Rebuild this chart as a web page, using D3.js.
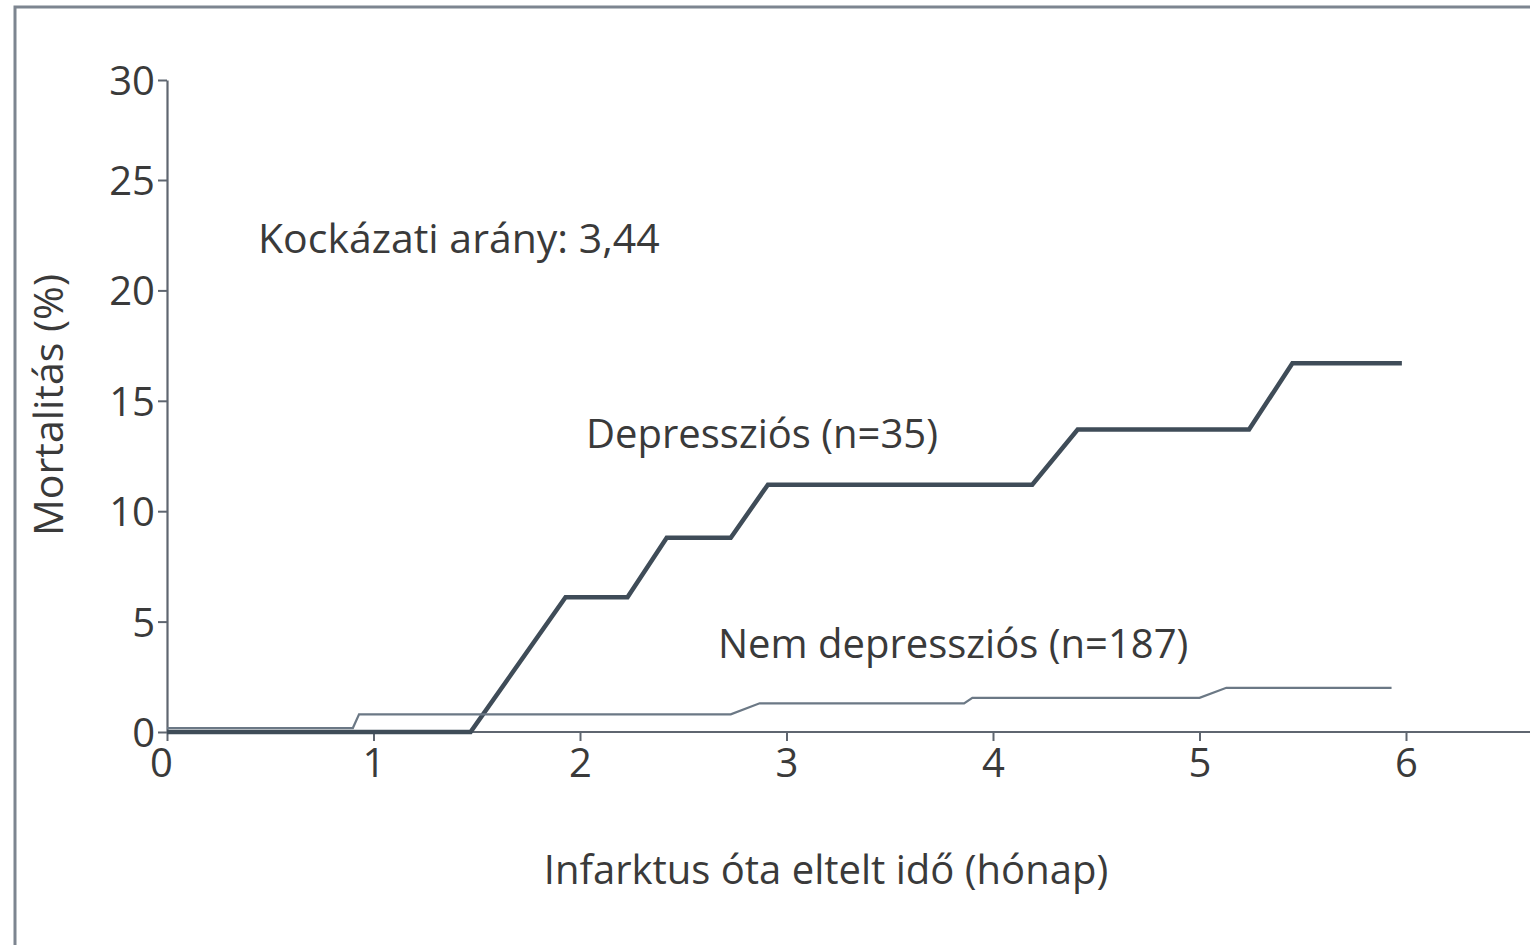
<!DOCTYPE html>
<html><head><meta charset="utf-8">
<script src="https://cdn.jsdelivr.net/npm/d3@7"></script>
<style>html,body{margin:0;padding:0;background:#fff;overflow:hidden}</style>
</head><body>
<svg id="c" width="1530" height="945"></svg>
<script>
// Data
const depMonths = [0, 1.47, 1.93, 2.23, 2.42, 2.73, 2.91, 4.19, 4.41, 5.24, 5.45, 5.98];
const depValues = [0, 0, 6.1, 6.1, 8.8, 8.8, 11.2, 11.2, 13.7, 13.7, 16.7, 16.7];
const nonMonths = [0, 0.9, 0.93, 2.73, 2.87, 3.86, 3.9, 5.0, 5.13, 5.93];
const nonValues = [0.18, 0.18, 0.8, 0.8, 1.3, 1.3, 1.55, 1.55, 2.0, 2.0];
const xTicks = [0, 1, 2, 3, 4, 5, 6];
const yTicks = [0, 5, 10, 15, 20, 25, 30];
const labels = {
  ratio: "Kockázati arány: 3,44",
  dep: "Depressziós (n=35)",
  non: "Nem depressziós (n=187)",
  xTitle: "Infarktus óta eltelt idő (hónap)",
  yTitle: "Mortalitás (%)"
};

const svg = d3.select("#c");
const font = "'Open Sans', sans-serif";
const textCol = "#3a3a3a";
const axisCol = "#5f6670";

// frame
svg.append("rect").attr("x", 15).attr("y", 7).attr("width", 1600).attr("height", 1000)
  .attr("fill", "none").attr("stroke", "#7d8590").attr("stroke-width", 3);

const x = d3.scaleLinear().domain([0, 6]).range([167, 1406]);
const y = d3.scaleLinear().domain([0, 25, 30]).range([732, 180, 80]);

// axes
const gx = svg.append("g").attr("transform", `translate(0,${y(0)})`)
  .call(d3.axisBottom(x).tickValues(xTicks).tickFormat(d3.format("d")).tickSize(9).tickPadding(4).tickSizeOuter(0));
gx.select(".domain").attr("d", `M${x(0)},0H1530`);
const gy = svg.append("g").attr("transform", `translate(${x(0)},0)`)
  .call(d3.axisLeft(y).tickValues(yTicks).tickFormat(d3.format("d")).tickSize(9).tickPadding(3).tickSizeOuter(0));
[gx, gy].forEach(g => {
  g.select(".domain").attr("stroke", axisCol).attr("stroke-width", 2.2);
  g.selectAll(".tick line").attr("stroke", axisCol).attr("stroke-width", 2);
  g.selectAll(".tick text").attr("fill", textCol).style("font-family", font).style("font-size", "40px");
});
gx.selectAll(".tick text").attr("dy", "0.8em");
gx.selectAll(".tick text").filter(d => d === 0).attr("dx", "-0.15em");
gy.selectAll(".tick text").attr("dy", "0.36em");

const line = d3.line().x(d => x(d[0])).y(d => y(d[1]));
svg.append("path").datum(d3.zip(depMonths, depValues)).attr("d", line)
  .attr("fill", "none").attr("stroke", "#3f4c58").attr("stroke-width", 4.5).attr("stroke-linejoin", "miter");
svg.append("path").datum(d3.zip(nonMonths, nonValues)).attr("d", line)
  .attr("fill", "none").attr("stroke", "#6b7885").attr("stroke-width", 2.2);

function txt(s, px, py, opts = {}) {
  const t = svg.append("text").text(s).attr("x", px).attr("y", py)
    .attr("fill", textCol).style("font-family", font).style("font-size", (opts.size || 40) + "px")
    .attr("text-anchor", opts.anchor || "start").attr("dominant-baseline", "central");
  if (opts.rotate) t.attr("transform", `rotate(-90,${px},${py})`);
  return t;
}
txt(labels.ratio, 258, y(22.4), {size: 41});
txt(labels.dep, 586, y(13.55));
txt(labels.non, 718, y(4.05));
txt(labels.xTitle, 826, 868, {anchor: "middle"});
txt(labels.yTitle, 47, 405, {anchor: "middle", rotate: true, size: 41});
</script>
</body></html>
